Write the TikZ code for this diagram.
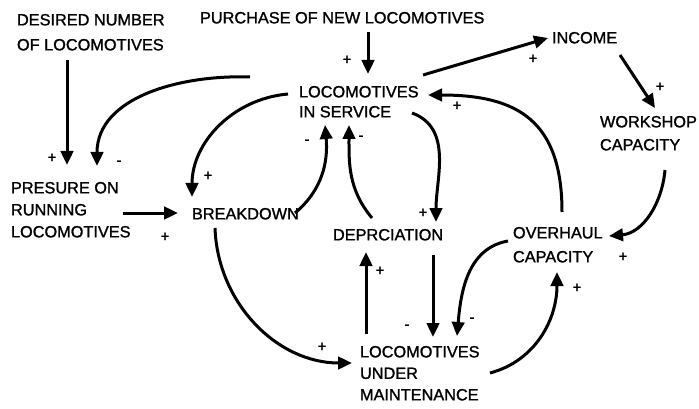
\documentclass[tikz,border=0pt]{standalone}
\usepackage{fontspec}
\setmainfont{Liberation Sans}
\newfontfamily\thickfam{Liberation Sans}[FakeBold=1.3]
\usetikzlibrary{arrows.meta}
\newcommand\vf[1]{\thickfam\fontsize{16.3}{#1}\selectfont}
\tikzset{
  var/.style={anchor=north west, inner sep=0pt, outer sep=0pt, align=left},
  sgn/.style={inner sep=0pt, font=\thickfam\fontsize{15}{15}\selectfont},
  conn/.style={line width=3pt, -{Triangle[length=14pt,width=12.5pt]}},
}
\begin{document}
\begin{tikzpicture}[x=1pt,y=-1pt]
\useasboundingbox (0,0) rectangle (699,409);
% variables
\node[var, font=\vf{25}] (des) at (17,14) {DESIRED NUMBER\\OF LOCOMOTIVES};
\node[var, font=\vf{20}] (pur) at (200,12) {PURCHASE OF NEW LOCOMOTIVES};
\node[var, font=\vf{20}] (inc) at (552,32) {INCOME};
\node[var, font=\vf{23}] (ws) at (600,116) {WORKSHOP\\CAPACITY};
\node[var, font=\vf{20}] (lis) at (299,86) {LOCOMOTIVES\\IN SERVICE};
\node[var, font=\vf{22}] (pre) at (11,182) {PRESURE ON\\RUNNING\\LOCOMOTIVES};
\node[var, font=\vf{20}] (brk) at (192,208) {BREAKDOWN};
\node[var, font=\vf{20}] (dep) at (333,229) {DEPRCIATION};
\node[var, font=\vf{24}] (ovh) at (513,227) {OVERHAUL\\CAPACITY};
\node[var, font=\vf{21.5}] (lum) at (360,346) {LOCOMOTIVES\\UNDER\\MAINTENANCE};
% connectors
\draw[conn] ([shift={(50,46)}]des.north west) -- ([shift={(56,-17)}]pre.north west);
\draw[conn] ([shift={(-49,-9)}]lis.north west) to[out=178,in=90] ([shift={(86,-16)}]pre.north west);
\draw[conn] ([shift={(-11,8)}]lis.north west) to[out=185,in=90] ([shift={(0,-11)}]brk.north west);
\draw[conn] ([shift={(112,31)}]pre.north west) -- ([shift={(-14,5)}]brk.north west);
\draw[conn] ([shift={(103,5)}]brk.north west) to[out=40,in=-85] ([shift={(26,39)}]lis.north west);
\draw[conn] ([shift={(39,-11)}]dep.north west) to[out=130,in=-90] ([shift={(50,39)}]lis.north west);
\draw[conn] ([shift={(113,27)}]lis.north west) to[out=-20,in=90] ([shift={(103,-7)}]dep.north west);
\draw[conn] ([shift={(100,26)}]dep.north west) -- ([shift={(73,-9)}]lum.north west);
\draw[conn] ([shift={(6,-12)}]lum.north west) -- ([shift={(33,23)}]dep.north west);
\draw[conn] ([shift={(-5,14)}]ovh.north west) to[out=190,in=85] ([shift={(97,-10)}]lum.north west);
\draw[conn] ([shift={(130,27)}]lum.north west) to[out=15,in=-90] ([shift={(44,45)}]ovh.north west);
\draw[conn] ([shift={(23,20)}]brk.north west) to[out=-88,in=180] ([shift={(-8,17)}]lum.north west);
\draw[conn] ([shift={(124,-11)}]lis.north west) -- ([shift={(-4,6)}]inc.north west);
\draw[conn] ([shift={(68,23)}]inc.north west) -- ([shift={(55,-8)}]ws.north west);
\draw[conn] ([shift={(65,54)}]ws.north west) to[out=-95,in=5] ([shift={(96,9)}]ovh.north west);
\draw[conn] ([shift={(49,-15)}]ovh.north west) to[out=90,in=0,looseness=1.3] ([shift={(129,9)}]lis.north west);
\draw[conn] ([shift={(168,20)}]pur.north west) -- ([shift={(69,-12)}]lis.north west);
% signs
\node[sgn] (s1) at (52,158) {+};
\node[sgn] (s2) at (119,163) {-};
\node[sgn] (s3) at (208,176) {+};
\node[sgn] (s4) at (165,237) {+};
\node[sgn] (s5) at (307,142) {-};
\node[sgn] (s6) at (361,138) {-};
\node[sgn] (s7) at (423,213) {+};
\node[sgn] (s8) at (407,327) {-};
\node[sgn] (s9) at (380,271) {+};
\node[sgn] (s10) at (472,320) {-};
\node[sgn] (s11) at (577,288) {+};
\node[sgn] (s12) at (322,347) {+};
\node[sgn] (s13) at (533,59) {+};
\node[sgn] (s14) at (660,87) {+};
\node[sgn] (s15) at (623,257) {+};
\node[sgn] (s16) at (457,106) {+};
\node[sgn] (s17) at (347,60) {+};
\end{tikzpicture}
\end{document}
